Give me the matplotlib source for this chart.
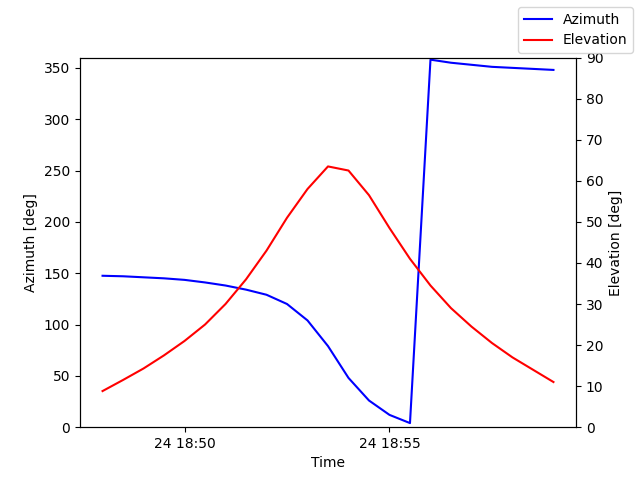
import datetime as dt

import matplotlib

matplotlib.use("Agg")
import matplotlib.pyplot as plt
import matplotlib.dates as mdates

start = dt.datetime(2024, 1, 24, 18, 48, 0)
times = [start + dt.timedelta(seconds=30 * i) for i in range(23)]
azimuth = [147.5, 147, 146, 145, 143.5, 141, 138, 134, 129, 120, 104, 79, 48, 26, 12, 4,
           358, 355, 353, 351, 350, 349, 348]
elevation = [8.8, 11.5, 14.3, 17.5, 21, 25, 30, 36, 43, 51, 58, 63.5, 62.5, 56.5, 48.5, 41,
             34.5, 29, 24.5, 20.5, 17, 14, 11]

fig, ax = plt.subplots(figsize=(6.4, 4.8), dpi=100)
ax.plot(times, azimuth, color="blue", label="Azimuth")
ax.set_ylim(0, 360)
ax.set_ylabel("Azimuth [deg]")
ax.set_xlabel("Time")
ax.xaxis.set_major_locator(mdates.MinuteLocator(byminute=range(0, 60, 5)))
ax.xaxis.set_major_formatter(mdates.DateFormatter("%d %H:%M"))

ax2 = ax.twinx()
ax2.plot(times, elevation, color="red", label="Elevation")
ax2.set_ylim(0, 90)
ax2.set_ylabel("Elevation [deg]")

fig.legend(loc="upper right")
fig.savefig("out.png")
